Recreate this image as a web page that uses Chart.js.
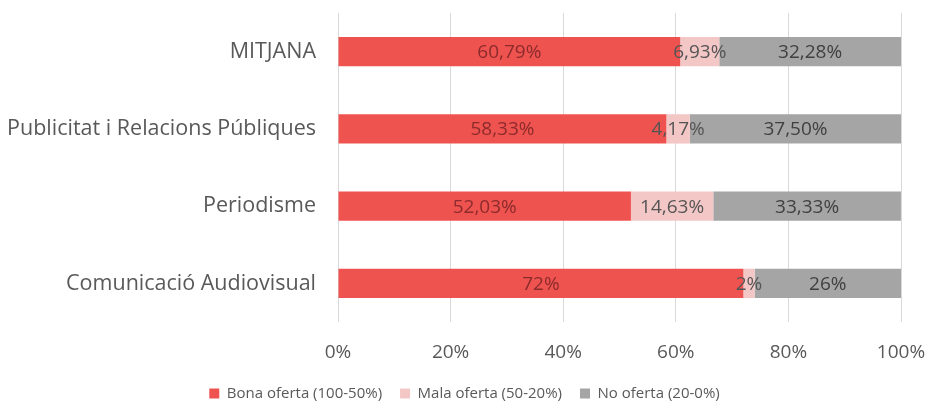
<!DOCTYPE html>
<html>
<head>
<meta charset="utf-8">
<script src="https://cdn.jsdelivr.net/npm/chart.js@4"></script>
<style>
  html, body { margin: 0; padding: 0; background: #fff; }
  #wrap { width: 932px; height: 417px; }
</style>
</head>
<body>
<div id="wrap"><canvas id="chart"></canvas></div>
<script>
// ===== DATA =====
const categories = ["MITJANA", "Publicitat i Relacions Públiques", "Periodisme", "Comunicació Audiovisual"];
const seriesNames = ["Bona oferta (100-50%)", "Mala oferta (50-20%)", "No oferta (20-0%)"];
const bona = [60.79, 58.33, 52.03, 72];
const mala = [6.93, 4.17, 14.63, 2];
const noOferta = [32.28, 37.50, 33.33, 26];
const xTicks = [0, 20, 40, 60, 80, 100];

const FONT = "'Open Sans'";

// format numbers like the original (comma decimals, integers stay plain)
function fmt(v) {
    if (Number.isInteger(v)) return v + "%";
    return v.toFixed(2).replace(".", ",") + "%";
}

// ===== DATA LABELS (own small plugin) =====
const barLabels = {
    id: "barLabels",
    afterDatasetsDraw(chart) {
        const ctx = chart.ctx;
        ctx.save();
        ctx.font = "19px " + FONT;
        ctx.textAlign = "center";
        ctx.textBaseline = "middle";
        chart.data.datasets.forEach((ds, i) => {
            const meta = chart.getDatasetMeta(i);
            meta.data.forEach((bar, j) => {
                ctx.fillStyle = ds.labelColor;
                ctx.fillText(fmt(ds.data[j]), (bar.x + bar.base) / 2, bar.y + 1);
            });
        });
        ctx.restore();
    }
};

const ctx = document.getElementById("chart").getContext("2d");
new Chart(ctx, {
    type: "bar",
    data: {
        labels: categories,
        datasets: [
            { label: seriesNames[0], data: bona, backgroundColor: "#ef5350", labelColor: "#8c2b2b" },
            { label: seriesNames[1], data: mala, backgroundColor: "#f4c7c7", labelColor: "#555555" },
            { label: seriesNames[2], data: noOferta, backgroundColor: "#a5a5a5", labelColor: "#404040" }
        ]
    },
    options: {
        indexAxis: "y",
        responsive: true,
        maintainAspectRatio: false,
        animation: false,
        layout: { padding: { left: 0, right: 3, top: 13, bottom: 6 } },
        datasets: {
            bar: { categoryPercentage: 1, barPercentage: 0.38, borderWidth: 0 }
        },
        scales: {
            x: {
                stacked: true,
                min: 0,
                max: 100,
                afterBuildTicks(scale) {
                    scale.ticks = xTicks.map(v => ({ value: v }));
                },
                afterFit(scale) {
                    scale.height = 46;
                    scale.paddingLeft = 0;
                    scale.paddingRight = 31;  // keeps 100% near x=901
                },
                grid: { color: "#d9d9d9", drawTicks: false },
                border: { display: false },
                ticks: {
                    padding: 19,
                    color: "#595959",
                    font: { family: FONT, size: 19 },
                    callback: v => v + "%"
                }
            },
            y: {
                stacked: true,
                afterFit(scale) {
                    scale.width = 338;
                    scale.paddingTop = 0;
                    scale.paddingBottom = 0;
                },
                grid: { display: false },
                border: { display: false },
                ticks: {
                    padding: 14,
                    color: "#595959",
                    font: { family: FONT, size: 21.5 }
                }
            }
        },
        plugins: {
            legend: {
                position: "bottom",
                labels: {
                    boxWidth: 10,
                    boxHeight: 10,
                    padding: 18,
                    color: "#595959",
                    font: { family: FONT, size: 15 }
                }
            },
            tooltip: { enabled: false }
        }
    },
    plugins: [barLabels]
});
</script>
</body>
</html>
